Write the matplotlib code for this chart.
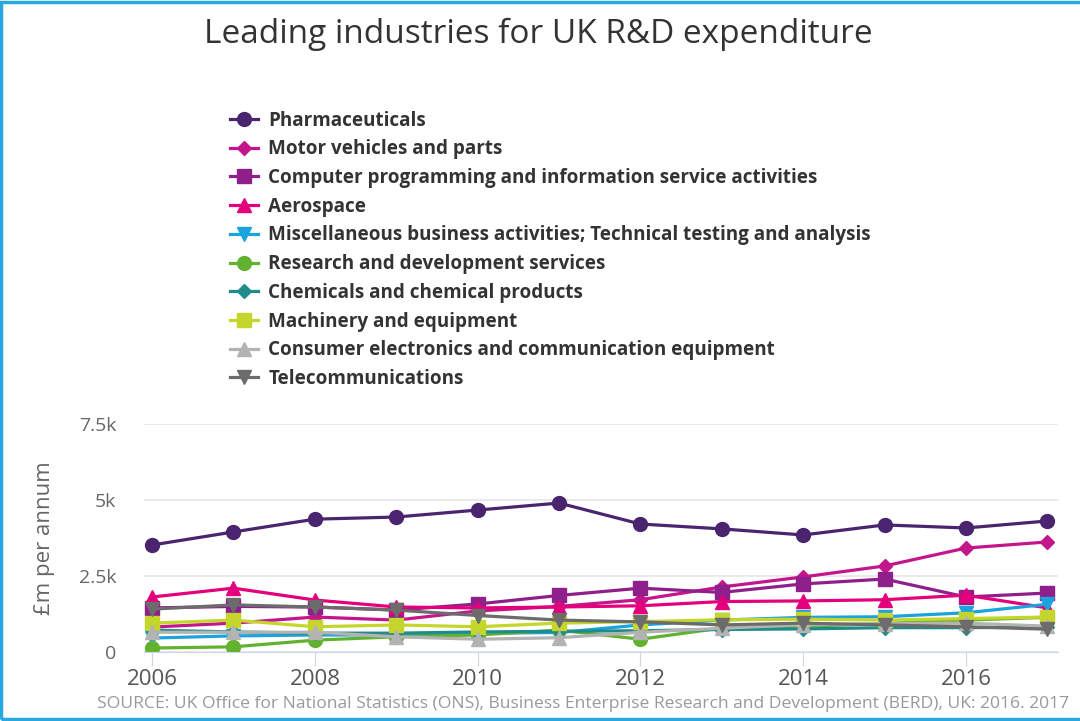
import numpy as np
import matplotlib.pyplot as plt
from matplotlib.patches import Rectangle

# values in £k million
years = [2006, 2007, 2008, 2009, 2010, 2011, 2012, 2013, 2014, 2015, 2016, 2017]

pharma = [3.52, 3.95, 4.37, 4.44, 4.67, 4.90, 4.21, 4.05, 3.85, 4.18, 4.08, 4.31]
motor = [0.82, 0.95, 1.15, 1.05, 1.35, 1.50, 1.72, 2.14, 2.47, 2.83, 3.42, 3.62]
computer = [1.45, 1.50, 1.48, 1.38, 1.58, 1.86, 2.10, 1.96, 2.24, 2.40, 1.81, 1.94]
aerospace = [1.81, 2.10, 1.71, 1.48, 1.45, 1.48, 1.52, 1.66, 1.68, 1.72, 1.87, 1.45]
misc = [0.46, 0.53, 0.56, 0.56, 0.62, 0.64, 0.89, 1.05, 1.14, 1.16, 1.29, 1.57]
rnd = [0.13, 0.17, 0.39, 0.50, 0.56, 0.72, 0.42, 0.79, 0.84, 0.94, 1.05, 1.14]
chemicals = [0.72, 0.66, 0.62, 0.62, 0.66, 0.68, 0.70, 0.74, 0.76, 0.80, 0.80, 0.82]
machinery = [0.95, 1.05, 0.83, 0.89, 0.83, 0.95, 1.00, 1.06, 1.08, 1.05, 1.10, 1.15]
consumer = [0.65, 0.65, 0.65, 0.50, 0.42, 0.47, 0.65, 0.78, 0.90, 0.93, 0.95, 0.85]
telecom = [1.41, 1.55, 1.48, 1.38, 1.20, 1.05, 0.99, 0.89, 0.95, 0.89, 0.83, 0.75]

labels = [
    "Pharmaceuticals",
    "Motor vehicles and parts",
    "Computer programming and information service activities",
    "Aerospace",
    "Miscellaneous business activities; Technical testing and analysis",
    "Research and development services",
    "Chemicals and chemical products",
    "Machinery and equipment",
    "Consumer electronics and communication equipment",
    "Telecommunications",
]
series = [pharma, motor, computer, aerospace, misc, rnd, chemicals, machinery, consumer, telecom]
colors = ["#4b2470", "#c2168a", "#8e1f8b", "#e4007c", "#1ba3de",
          "#63b22f", "#1f8b8b", "#c4d62b", "#b3b3b3", "#6c6c6c"]
markers = ["o", "D", "s", "^", "v", "o", "D", "s", "^", "v"]
msizes = [10, 7, 10, 10, 10, 10, 7, 10, 10, 10]

plt.rcParams["font.family"] = ["Open Sans", "DejaVu Sans"]

fig = plt.figure(figsize=(10.8, 7.21), dpi=100)
ax = fig.add_axes([0.1333, 0.0957, 0.8463, 0.3162])

handles = []
for vals, lab, c, m, ms in zip(series, labels, colors, markers, msizes):
    h, = ax.plot(years, np.array(vals) * 1000, color=c, marker=m, markersize=ms,
                 linewidth=2.3, label=lab)
    handles.append(h)

ax.set_xlim(2005.9, 2017.13)
ax.set_ylim(0, 7500)
ax.set_yticks([0, 2500, 5000, 7500])
ax.set_yticklabels(["0", "2.5k", "5k", "7.5k"])
ax.set_xticks([2006, 2008, 2010, 2012, 2014, 2016])
ax.grid(axis="y", color="#e6e6e6", linewidth=1.2)
ax.grid(axis="x", visible=False)
ax.set_axisbelow(True)
for s in ["top", "right", "left"]:
    ax.spines[s].set_visible(False)
ax.spines["bottom"].set_color("#ccd6eb")
ax.tick_params(axis="y", length=0, pad=20, labelsize=14, labelcolor="#666666")
ax.tick_params(axis="x", length=10, color="#ccd6eb", pad=2, labelsize=16, labelcolor="#555555")
ax.set_ylabel("£m per annum", fontsize=16, color="#666666", labelpad=17)

fig.legend(handles=handles, labels=labels, loc="upper left",
           bbox_to_anchor=(0.197, 0.87), frameon=False,
           handlelength=1.5, handletextpad=0.55, labelspacing=0.46,
           prop={"weight": "bold", "size": 13.6}, labelcolor="#333333")

fig.text(0.498, 0.952, "Leading industries for UK R&D expenditure", ha="center",
         va="center", fontsize=24, color="#333333")
fig.text(0.99, 0.024, "SOURCE: UK Office for National Statistics (ONS), Business Enterprise "
         "Research and Development (BERD), UK: 2016. 2017", ha="right", va="center",
         fontsize=12.6, color="#999999")

fig.patches.append(Rectangle((0.001, 0.003), 1.2, 0.994, transform=fig.transFigure,
                             fill=False, edgecolor="#29a8e0", linewidth=2.5))

fig.savefig("out.png", dpi=100)
